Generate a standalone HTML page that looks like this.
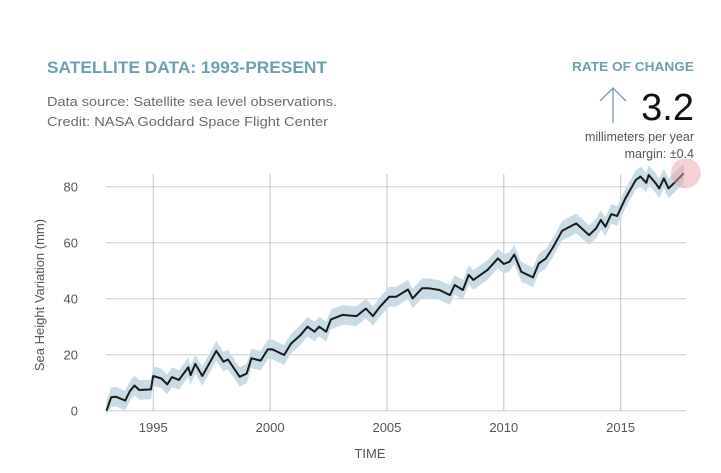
<!DOCTYPE html>
<html><head><meta charset="utf-8"><style>
body{margin:0;background:#fff;}
svg{display:block;font-family:"Liberation Sans",Arial,sans-serif;}
</style></head><body>
<svg id="chart" width="721" height="473" viewBox="0 0 721 473">
<text x="47" y="73" font-size="17" font-weight="bold" fill="#6f9fad" textLength="280" lengthAdjust="spacingAndGlyphs">SATELLITE DATA: 1993-PRESENT</text>
<text x="47" y="106" font-size="13" fill="#6b6b6b" textLength="290" lengthAdjust="spacingAndGlyphs">Data source: Satellite sea level observations.</text>
<text x="47" y="126" font-size="13" fill="#6b6b6b" textLength="281" lengthAdjust="spacingAndGlyphs">Credit: NASA Goddard Space Flight Center</text>
<text x="694" y="71" font-size="12.5" font-weight="bold" fill="#6f9fad" text-anchor="end" textLength="122" lengthAdjust="spacingAndGlyphs">RATE OF CHANGE</text>
<g stroke="#6f9fad" stroke-width="1.3" fill="none">
<line x1="613" y1="88" x2="613" y2="123"/><polyline points="600,101 613,88 626,101"/></g>
<text x="694" y="120" font-size="38" fill="#111" text-anchor="end">3.2</text>
<text x="694" y="141" font-size="12.5" fill="#555" text-anchor="end">millimeters per year</text>
<text x="694" y="158" font-size="12.5" fill="#555" text-anchor="end">margin: ±0.4</text>
<g id="grid"></g>
<g id="band"></g>
<g id="line"></g>
<g id="axes"></g>
<text x="370" y="458" font-size="13" fill="#555" text-anchor="middle">TIME</text>
<text transform="translate(44,295) rotate(-90)" font-size="13" fill="#555" text-anchor="middle">Sea Height Variation (mm)</text>
</svg>
<script>
const years=[1993.0,1993.2,1993.4,1993.8,1994.0,1994.2,1994.4,1994.9,1995.0,1995.35,1995.6,1995.8,1996.1,1996.5,1996.6,1996.8,1997.1,1997.7,1998.0,1998.2,1998.7,1999.0,1999.2,1999.6,1999.9,2000.1,2000.6,2000.9,2001.3,2001.6,2001.9,2002.1,2002.4,2002.6,2003.1,2003.7,2004.1,2004.4,2004.7,2005.1,2005.4,2005.9,2006.1,2006.5,2006.8,2007.25,2007.7,2007.9,2008.25,2008.5,2008.7,2009.0,2009.3,2009.75,2010.0,2010.25,2010.45,2010.75,2011.25,2011.5,2011.8,2012.1,2012.5,2013.1,2013.65,2013.95,2014.15,2014.35,2014.6,2014.85,2015.2,2015.65,2015.85,2016.1,2016.2,2016.5,2016.65,2016.85,2017.05,2017.35,2017.7];
const values=[0,4.8,5,3.6,7,9,7.4,7.6,12.4,11.5,9.4,12,11,15.5,12.7,16.7,12.4,21.4,17.5,18.3,12.1,13.3,18.7,17.9,21.9,21.9,19.9,24,27,30,28.2,30,28.2,32.6,34.2,33.8,36.5,33.8,37.1,40.7,40.7,43.3,40.1,43.7,43.7,43.1,41.3,44.9,43.1,48.5,46.7,48.5,50.2,54.4,52.4,53.2,55.8,49.6,47.6,52.6,54.4,58.3,64.3,66.9,62.7,65.1,68.1,65.7,70.2,69.5,75.8,82.4,83.6,81.4,84.2,81.2,79.4,83,79.4,81.8,84.8];
const margin=[3.5];
const yTicks=[0,20,40,60,80];
const xTicks=[1995,2000,2005,2010,2015];
const NS="http://www.w3.org/2000/svg";
const X=y=>106.5+(y-1993)*23.37;
const Y=v=>410.7-v*2.8;
function mk(t,a,p){const e=document.createElementNS(NS,t);for(const k in a)e.setAttribute(k,a[k]);p.appendChild(e);return e;}
const grid=document.getElementById('grid'),axes=document.getElementById('axes');
yTicks.forEach(v=>{
 const l=mk('line',{x1:106,x2:686,y1:Y(v),y2:Y(v),stroke:'#cfcfcf','stroke-width':1},grid);
 
 
 const t=mk('text',{x:78,y:Y(v)+5,'font-size':13,fill:'#555','text-anchor':'end'},axes);
 t.textContent=v;
 
 
});
xTicks.forEach(v=>{
 const l=mk('line',{x1:X(v),x2:X(v),y1:174,y2:411,stroke:'#c4c4c4','stroke-width':1},grid);
 
 
 const t=mk('text',{x:X(v),y:432,'font-size':13,fill:'#555','text-anchor':'middle'},axes);
 t.textContent=v;
 
 
});
const m=margin[0];
let up=years.map((y,i)=>X(y).toFixed(1)+','+Y(values[i]+m).toFixed(1));
let dn=years.map((y,i)=>X(y).toFixed(1)+','+Y(Math.max(values[i]-m,-1.5)).toFixed(1)).reverse();
const band=mk('polygon',{points:up.concat(dn).join(' '),fill:'#c9dce5'},document.getElementById('band'));


const ln=mk('polyline',{points:years.map((y,i)=>X(y).toFixed(1)+','+Y(values[i]).toFixed(1)).join(' '),fill:'none',stroke:'#1a1a1a','stroke-width':2,'stroke-linejoin':'round'},document.getElementById('line'));


const li=years.length-1;
const c=mk('circle',{cx:X(years[li])+2,cy:Y(values[li]),r:15,fill:'#e8a3aa','fill-opacity':0.5},document.getElementById('line'));


</script>
</body></html>
